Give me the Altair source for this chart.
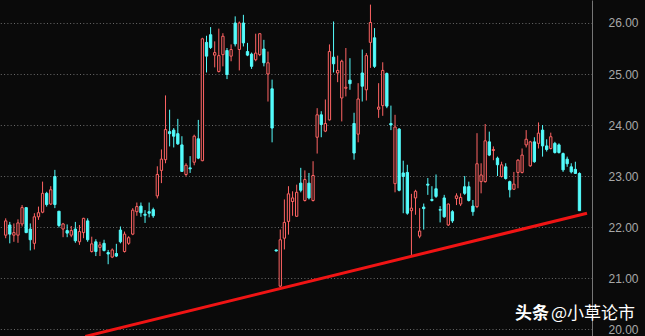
import altair as alt
import pandas as pd

opens = [21.84, 22.04, 21.84, 21.84, 22.06, 22.38, 21.96, 21.68, 22.20, 22.29,
         22.66, 22.45, 22.99, 22.31, 21.96, 21.93, 21.84, 21.96, 21.71, 21.89,
         22.12, 21.52, 21.71, 21.60, 21.68, 21.50, 21.41, 21.48, 21.94, 21.52,
         21.68, 21.86, 22.30, 22.41, 22.25, 22.30, 22.34, 22.61, 23.11, 23.32,
         23.87, 23.90, 23.83, 23.61, 23.03, 23.16, 23.27, 23.73, 23.30, 25.62,
         25.77, 25.37, 25.05, 25.38, 25.46, 25.35, 26.00, 25.48, 26.00, 25.44,
         25.39, 25.28, 25.38, 25.49, 25.00, 24.71, 21.55, 20.84, 21.78, 22.11,
         22.50, 22.21, 22.86, 22.52, 22.86, 22.52, 23.76, 24.20, 23.88, 24.10,
         25.33, 25.02, 24.53, 24.72, 24.88, 24.03, 23.82, 25.02, 24.69, 25.62,
         25.71, 24.31, 24.38, 25.01, 24.03, 22.85, 23.92, 23.06, 23.07, 22.32,
         22.57, 21.82, 22.39, 22.84, 22.54, 22.75, 22.34, 22.57, 22.04, 22.30,
         22.56, 22.45, 22.79, 22.79, 22.41, 22.40, 22.89, 22.89, 23.67, 23.50,
         23.35, 22.99, 23.18, 22.89, 22.74, 23.07, 23.07, 23.61, 23.20, 23.67,
         23.64, 23.90, 23.59, 23.54, 23.64, 23.61, 23.44, 23.33, 23.18, 23.13,
         23.05]
highs = [22.17, 22.10, 22.07, 22.15, 22.43, 22.38, 22.07, 22.27, 22.40, 22.89,
         22.69, 22.80, 23.12, 22.31, 22.08, 22.05, 22.02, 22.10, 22.04, 22.18,
         22.17, 21.81, 21.76, 21.71, 21.75, 21.55, 21.58, 21.67, 22.01, 21.91,
         21.82, 22.37, 22.48, 22.48, 22.33, 22.48, 22.38, 23.19, 23.52, 24.58,
         24.30, 23.94, 24.12, 23.78, 23.25, 23.39, 23.81, 24.10, 25.71, 25.75,
         25.92, 25.64, 25.89, 25.80, 25.51, 25.58, 26.13, 26.03, 26.16, 25.61,
         25.42, 25.79, 25.80, 25.67, 25.44, 24.89, 21.56, 21.95, 22.54, 22.80,
         22.70, 22.83, 23.16, 23.11, 23.06, 23.29, 24.33, 24.27, 24.50, 25.58,
         26.03, 25.36, 25.28, 25.51, 25.31, 24.24, 24.82, 25.48, 25.41, 26.36,
         25.90, 24.82, 25.23, 25.03, 24.38, 24.20, 23.94, 23.30, 23.22, 22.65,
         22.73, 22.37, 22.46, 22.96, 22.80, 23.03, 22.41, 22.63, 22.46, 22.33,
         22.66, 22.66, 23.00, 22.89, 22.53, 23.84, 23.25, 24.02, 23.87, 23.58,
         23.38, 23.28, 23.25, 22.91, 23.08, 23.33, 23.54, 23.90, 23.69, 23.76,
         24.05, 24.00, 23.72, 23.85, 23.67, 23.64, 23.46, 23.38, 23.25, 23.28,
         23.07]
lows = [21.78, 21.68, 21.71, 21.69, 22.01, 21.88, 21.54, 21.56, 22.14, 22.27,
        22.40, 22.43, 22.37, 21.99, 21.80, 21.80, 21.80, 21.69, 21.65, 21.78,
        21.71, 21.50, 21.43, 21.43, 21.52, 21.27, 21.39, 21.41, 21.68, 21.50,
        21.65, 21.84, 22.22, 22.20, 22.08, 22.19, 22.18, 22.56, 22.86, 23.25,
        23.58, 23.56, 23.61, 23.08, 22.99, 23.06, 23.21, 23.33, 23.29, 25.03,
        25.49, 25.13, 25.03, 25.15, 24.90, 25.25, 25.54, 25.07, 25.54, 25.35,
        25.10, 25.25, 25.35, 25.15, 24.46, 23.66, 21.52, 20.82, 21.56, 21.85,
        22.22, 22.20, 22.68, 22.50, 22.54, 22.50, 23.44, 23.76, 23.86, 24.09,
        25.03, 24.84, 24.07, 24.56, 24.69, 23.32, 23.66, 24.46, 24.48, 25.12,
        25.12, 24.14, 24.18, 24.33, 23.90, 22.68, 22.70, 22.27, 22.24, 21.44,
        22.24, 21.78, 21.95, 22.63, 22.50, 22.57, 22.09, 22.18, 22.02, 22.08,
        22.43, 22.41, 22.63, 22.50, 22.22, 22.37, 22.66, 22.87, 23.39, 23.31,
        23.00, 22.97, 22.93, 22.58, 22.73, 22.76, 23.05, 23.56, 23.18, 23.26,
        23.54, 23.38, 23.48, 23.52, 23.44, 23.44, 23.08, 23.18, 23.05, 23.04,
        22.32]
closes = [22.12, 21.86, 21.89, 22.08, 22.38, 21.89, 21.75, 22.20, 22.28, 22.66,
          22.44, 22.73, 22.44, 22.03, 22.06, 21.88, 21.93, 21.73, 21.91, 22.17,
          21.75, 21.67, 21.52, 21.65, 21.54, 21.47, 21.55, 21.43, 21.71, 21.86,
          21.79, 22.33, 22.40, 22.28, 22.23, 22.27, 22.22, 23.03, 23.33, 23.91,
          23.83, 23.78, 23.63, 23.09, 23.21, 23.14, 23.78, 23.35, 25.69, 25.35,
          25.52, 25.42, 25.36, 25.74, 24.99, 25.48, 25.59, 26.00, 25.61, 25.37,
          25.15, 25.41, 25.79, 25.22, 25.22, 23.94, 21.53, 21.75, 22.09, 22.65,
          22.57, 22.68, 22.72, 22.93, 22.57, 23.01, 24.20, 24.01, 24.03, 25.44,
          25.20, 25.07, 25.25, 24.74, 24.81, 23.45, 24.51, 24.76, 25.36, 26.01,
          25.15, 24.35, 25.07, 24.37, 24.00, 23.96, 22.72, 22.99, 22.27, 22.37,
          22.70, 21.92, 22.36, 22.82, 22.52, 22.60, 22.33, 22.20, 22.45, 22.12,
          22.61, 22.58, 22.66, 22.52, 22.30, 23.24, 23.02, 23.69, 23.41, 23.52,
          23.22, 23.22, 22.95, 22.73, 22.84, 23.31, 23.41, 23.72, 23.67, 23.28,
          23.84, 23.59, 23.52, 23.77, 23.46, 23.46, 23.12, 23.24, 23.08, 23.05,
          22.32]

y_ticks = [20, 21, 22, 23, 24, 25, 26]
trend_index = [20.43, 142.84]
trend_price = [19.855, 22.271]

BG = "#0a0a0a"
RED = "#ff6464"
CYAN = "#54fcfc"

n = len(opens)
df = pd.DataFrame({"i": list(range(1, n + 1)), "o": opens, "h": highs,
                   "l": lows, "c": closes})
df["dir"] = ["up" if c >= o else "down" for o, c in zip(df["o"], df["c"])]
df["top"] = df[["o", "c"]].max(axis=1)
df["bot"] = df[["o", "c"]].min(axis=1)

xs = alt.Scale(domain=[0.832, 142.84], nice=False, zero=False)
ys = alt.Scale(domain=[19.86275, 26.45098], nice=False, zero=False)
cs = alt.Scale(domain=["up", "down"], range=[RED, CYAN])

yaxis = alt.Axis(orient="right", values=y_ticks, format=".2f", grid=True,
                 gridColor="#6a6a6a", gridDash=[1, 2.3], gridWidth=1,
                 domain=True, domainColor="#767676", domainWidth=1,
                 ticks=False, labelPadding=16, labelFont="Liberation Sans",
                 labelFontSize=12, labelColor="#a8a8a8", title=None,
                 labelOverlap=False, labelFlush=False)

X = alt.X("i:Q", scale=xs, axis=None)
base = alt.Chart(df)

upper = base.mark_rule(strokeWidth=1).encode(
    x=X, y=alt.Y("h:Q", scale=ys, axis=yaxis), y2="top:Q",
    color=alt.Color("dir:N", scale=cs, legend=None))
lower = base.mark_rule(strokeWidth=1).encode(
    x=X, y=alt.Y("bot:Q", scale=ys, axis=yaxis), y2="l:Q",
    color=alt.Color("dir:N", scale=cs, legend=None))
up_body = base.transform_filter("datum.dir == 'up'").mark_bar(
    size=2.3, fill=BG, stroke=RED, strokeWidth=1, orient="vertical").encode(
    x=X, y=alt.Y("bot:Q", scale=ys, axis=yaxis), y2="top:Q")
down_body = base.transform_filter("datum.dir == 'down'").mark_bar(
    size=2.3, fill=CYAN, stroke=CYAN, strokeWidth=1, orient="vertical").encode(
    x=X, y=alt.Y("bot:Q", scale=ys, axis=yaxis), y2="top:Q")

trend = alt.Chart(pd.DataFrame({"i": trend_index, "p": trend_price})).mark_line(
    color="#f01414", strokeWidth=3, clip=True).encode(
    x=X, y=alt.Y("p:Q", scale=ys, axis=yaxis))

wm1 = alt.Chart(pd.DataFrame({"t": ["头条"]})).mark_text(
    align="left", baseline="middle", font="Noto Sans CJK SC", fontSize=17,
    fontWeight="bold", color="#ffffff").encode(
    x=alt.value(515), y=alt.value(314), text="t:N")
wm2 = alt.Chart(pd.DataFrame({"t": ["@小草论市"]})).mark_text(
    align="left", baseline="middle", font="Noto Sans CJK SC", fontSize=17,
    fontWeight="normal", color="#ffffff").encode(
    x=alt.value(551), y=alt.value(314), text="t:N")

chart = alt.layer(upper, lower, up_body, down_body, trend, wm1, wm2).properties(
    width=592, height=336,
    padding={"left": 0, "top": 0, "right": 53, "bottom": 0},
    autosize=alt.AutoSizeParams(type="none"),
    background=BG,
).configure_view(stroke=None)

chart.save("out.html", embed_options={"renderer": "svg", "actions": False})
